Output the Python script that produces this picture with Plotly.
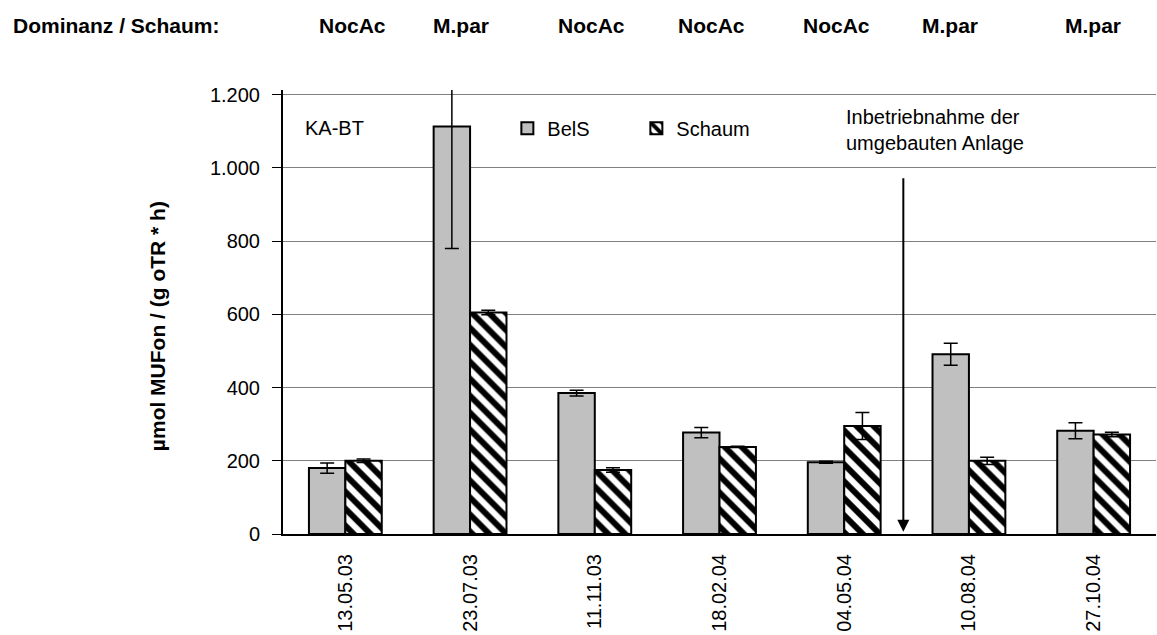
import plotly.graph_objects as go

# Sampling dates (x categories)
dates = ["13.05.03", "23.07.03", "11.11.03", "18.02.04", "04.05.04", "10.08.04", "27.10.04"]

# Dominant organism in the foam per date
dominance = ["NocAc", "M.par", "NocAc", "NocAc", "NocAc", "M.par", "M.par"]

# Enzyme activity, µmol MUFon / (g oTR * h)
bels_values = [180, 1113, 385, 277, 196, 491, 282]
bels_errors = [14, 333, 8, 14, 3, 30, 22]
schaum_values = [200, 605, 175, 238, 295, 200, 272]
schaum_errors = [5, 6, 6, 2, 37, 10, 6]

# Y axis ticks
y_ticks = [0, 200, 400, 600, 800, 1000, 1200]
y_tick_labels = ["0", "200", "400", "600", "800", "1.000", "1.200"]

# Start-up of the rebuilt plant (arrow between 04.05.04 and 10.08.04)
startup_x = 4.474
startup_arrow_top = 976
startup_arrow_tip = 6

FONT = "Liberation Sans, Arial, sans-serif"

fig = go.Figure()

fig.add_trace(go.Bar(
    name="BelS",
    x=dates,
    y=bels_values,
    marker=dict(color="#c0c0c0", line=dict(color="black", width=2)),
    error_y=dict(type="data", array=bels_errors, visible=True,
                 color="black", thickness=1.5, width=7),
))

fig.add_trace(go.Bar(
    name="Schaum",
    x=dates,
    y=schaum_values,
    marker=dict(
        color="white",
        line=dict(color="black", width=2),
        pattern=dict(shape="\\", fgcolor="black", bgcolor="white", fgopacity=1,
                     size=12, solidity=0.5, fillmode="replace"),
    ),
    error_y=dict(type="data", array=schaum_errors, visible=True,
                 color="black", thickness=1.5, width=7),
))

annotations = []

# Header row: dominance in the foam
annotations.append(dict(
    text="<b>Dominanz / Schaum:</b>", xref="paper", yref="paper",
    x=-0.311, y=1.146, xanchor="left", yanchor="middle", showarrow=False,
    font=dict(family=FONT, size=21, color="black"),
))
dom_shift = [7, -9, -3, -8, -8, -19, -1]
for i, (d, lab) in enumerate(zip(dates, dominance)):
    annotations.append(dict(
        text=f"<b>{lab}</b>", xref="x", yref="paper",
        x=d, y=1.146, xanchor="center", yanchor="middle", showarrow=False,
        xshift=dom_shift[i],
        font=dict(family=FONT, size=21, color="black"),
    ))

# Y axis title
annotations.append(dict(
    text="<b>µmol MUFon / (g oTR * h)</b>", xref="paper", yref="paper",
    x=(157 - 283) / 874, y=(534 - 326) / 444, xanchor="center", yanchor="middle",
    textangle=-90, showarrow=False,
    font=dict(family=FONT, size=21, color="black"),
))

# Plant label
annotations.append(dict(
    text="KA-BT", xref="paper", yref="paper",
    x=0.0229, y=0.914, xanchor="left", yanchor="middle", showarrow=False,
    font=dict(family=FONT, size=20, color="black"),
))

# Start-up note and arrow
annotations.append(dict(
    text="Inbetriebnahme der<br>umgebauten Anlage", xref="paper", yref="paper",
    x=0.643, y=0.910, xanchor="left", yanchor="middle", showarrow=False,
    align="left",
    font=dict(family=FONT, size=20, color="black"),
))
annotations.append(dict(
    x=startup_x, y=startup_arrow_tip, ax=startup_x, ay=startup_arrow_top,
    xref="x", yref="y", axref="x", ayref="y", text="",
    showarrow=True, arrowhead=2, arrowsize=1.2, arrowwidth=2, arrowcolor="black",
    standoff=0,
))

fig.update_layout(
    width=1157, height=635,
    margin=dict(l=283, r=1, t=90, b=101),
    paper_bgcolor="white", plot_bgcolor="white",
    font=dict(family=FONT, size=20, color="black"),
    barmode="group", bargap=0.416, bargroupgap=0,
    showlegend=True,
    legend=dict(
        orientation="h", x=0.257, y=0.914, xanchor="left", yanchor="middle",
        font=dict(family=FONT, size=20, color="black"),
        bgcolor="rgba(0,0,0,0)", entrywidth=84, entrywidthmode="pixels",
        traceorder="normal",
    ),
    annotations=annotations,
)

fig.update_xaxes(
    type="category",
    showline=True, linecolor="black", linewidth=2,
    showgrid=False, ticks="", tickangle=-90,
    tickfont=dict(family=FONT, size=20, color="black"),
    ticklabelstandoff=10,
)

fig.update_yaxes(
    range=[0, 1213],
    tickvals=y_ticks, ticktext=y_tick_labels,
    showline=True, linecolor="black", linewidth=2,
    showgrid=True, gridcolor="#808080", gridwidth=1,
    ticks="outside", ticklen=9, tickcolor="black", tickwidth=1,
    tickfont=dict(family=FONT, size=20, color="black"),
    ticklabelstandoff=8,
    zeroline=False,
)

fig.write_html("out.html")
